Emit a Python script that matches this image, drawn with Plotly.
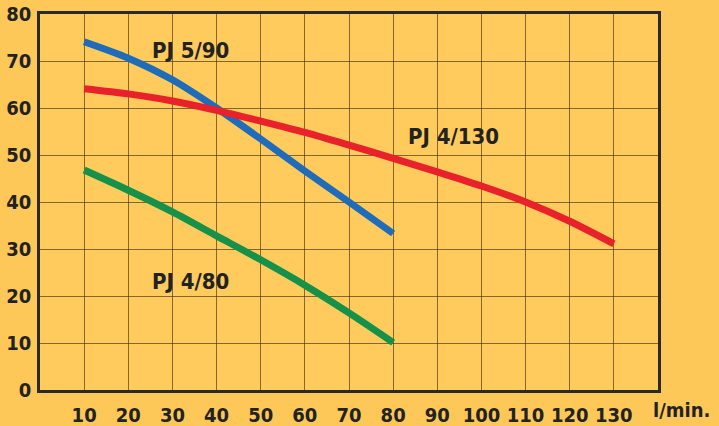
import plotly.graph_objects as go

flow = [10, 20, 30, 40, 50, 60, 70, 80, 90, 100, 110, 120, 130]
pj590 = [74.1, 70.6, 66.0, 60.0, 53.4, 46.6, 40.0, 33.3]
pj4130 = [64.1, 63.0, 61.5, 59.5, 57.2, 54.8, 52.1, 49.3, 46.4, 43.4, 40.0, 35.9, 31.1]
pj480 = [46.8, 42.5, 37.9, 32.8, 27.7, 22.3, 16.4, 10.1]
x_ticks = [10, 20, 30, 40, 50, 60, 70, 80, 90, 100, 110, 120, 130]
y_ticks = [0, 10, 20, 30, 40, 50, 60, 70, 80]
names = ["PJ 5/90", "PJ 4/130", "PJ 4/80"]
label_pos = [(34, 72.3), (93.7, 53.9), (34.2, 23.0)]

FONT = "DejaVu Sans Condensed, Liberation Sans Narrow, sans-serif"
colors = ["#1F6CBA", "#E8212B", "#16914A"]
series = [pj590, pj4130, pj480]

fig = go.Figure()
for name, vals, col in zip(names, series, colors):
    fig.add_trace(go.Scatter(
        x=flow[:len(vals)], y=vals, mode="lines", name=name,
        line=dict(color=col, width=7, shape="spline", smoothing=0.8),
        hoverinfo="skip"))

for name, (lx, ly) in zip(names, label_pos):
    fig.add_annotation(x=lx, y=ly, text="<b>%s</b>" % name, showarrow=False,
                       font=dict(family=FONT, size=22, color="#222222"),
                       xanchor="center", yanchor="middle")

fig.add_annotation(x=1.0, xref="paper", xanchor="left", xshift=-7,
                   y=-20 / 376, yref="paper", yanchor="middle",
                   text="<b>l/min.</b>", showarrow=False,
                   font=dict(family=FONT, size=20, color="#222222"))

axis_common = dict(showgrid=True, gridcolor="rgba(60,40,15,0.62)", gridwidth=1.4,
                   showline=True, linecolor="#2a2a2a", linewidth=2.5, mirror=True,
                   zeroline=False, ticks="outside", tickcolor="rgba(0,0,0,0)",
                   automargin=False,
                   tickfont=dict(family=FONT, size=20, color="#222222"))

fig.update_xaxes(range=[0, 140], tickvals=x_ticks,
                 ticktext=["<b>%d</b>" % v for v in x_ticks], ticklen=5,
                 **axis_common)
fig.update_yaxes(range=[0, 80], tickvals=y_ticks,
                 ticktext=["<b>%d</b>" % v for v in y_ticks], ticklen=2,
                 **axis_common)

fig.update_layout(width=719, height=426, showlegend=False,
                  paper_bgcolor="#FEC859", plot_bgcolor="#FECB5C",
                  margin=dict(l=40, r=61, t=14, b=36))

fig.write_html("out.html", config={"displayModeBar": False},
               post_script="document.body.style.margin='0';document.body.style.background='#FEC859';")
